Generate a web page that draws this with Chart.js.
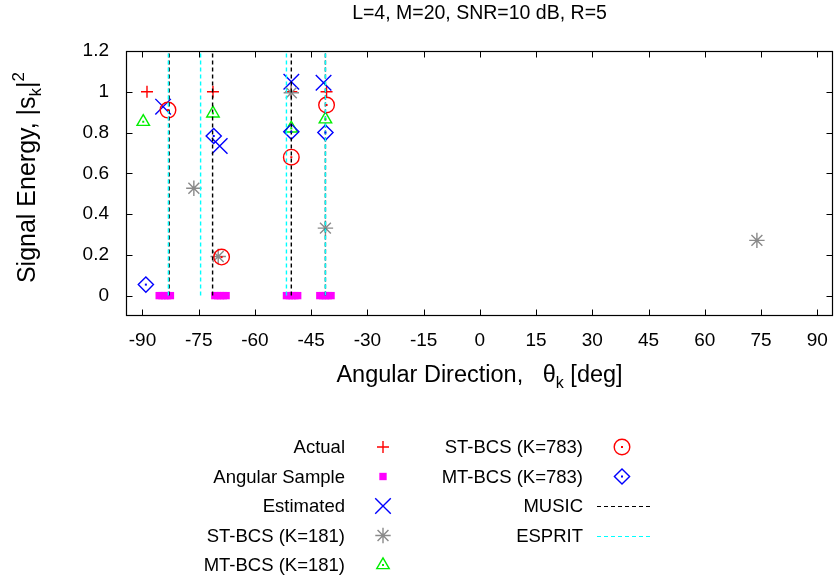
<!DOCTYPE html>
<html>
<head>
<meta charset="utf-8">
<script src="https://cdn.jsdelivr.net/npm/chart.js@4.4.0/dist/chart.umd.min.js"></script>
<style>
  html, body { margin: 0; padding: 0; background: #fff; }
</style>
</head>
<body>
<canvas id="chart" width="835" height="583"></canvas>
<script>
const FONT = '"Liberation Sans", Arial, sans-serif';

// axis ticks
const xTicks = [-90, -75, -60, -45, -30, -15, 0, 15, 30, 45, 60, 75, 90];
const yTicks = [0, 0.2, 0.4, 0.6, 0.8, 1, 1.2];

// data (degrees, energy)
const actualDoA = [-88.8, -71.2, -50.3, -40.9];
const actualEnergy = [1, 1, 1, 1];
const sampleDoA = [-85.55, -84.8, -84.05, -83.3, -82.55,
                   -70.7, -69.95, -69.2, -68.45, -67.7,
                   -51.6, -50.85, -50.1, -49.35, -48.6,
                   -42.7, -41.95, -41.2, -40.45, -39.7];
const estDoA = [-84.5, -69.4, -50.3, -41.7];
const estEnergy = [0.927, 0.734, 1.049, 1.044];
const st181DoA = [-76.3, -69.8, -50.3, -41.2, 73.9];
const st181Energy = [0.527, 0.192, 0.995, 0.331, 0.271];
const mt181DoA = [-89.8, -71.2, -50.3, -41.2];
const mt181Energy = [0.853, 0.894, 0.82, 0.865];
const st783DoA = [-83.2, -68.9, -50.3, -40.9];
const st783Energy = [0.91, 0.189, 0.679, 0.935];
const mt783DoA = [-89.1, -71.0, -50.3, -41.2];
const mt783Energy = [0.054, 0.783, 0.804, 0.80];
const musicDoA = [-82.9, -71.3, -50.3, -41.2];
const espritDoA = [-83.1, -74.5, -51.6, -41.2];

function pts(xs, ys) { return xs.map((v, i) => ({x: v, y: ys[i]})); }
function vlines(xs) { return xs.flatMap(v => [{x: v, y: 0}, {x: v, y: 1.2}, {x: v, y: null}]); }

const RED = '#ff0000', BLUE = '#0000ff', GRAY = '#8a8a8a', GREEN = '#00ee00', MAG = '#ff00ff', CYAN = '#00ffff';
const NONE = 'rgba(0,0,0,0)';

const series = [
  {label: 'Actual', data: pts(actualDoA, actualEnergy), style: 'cross', r: 6, color: RED},
  {label: 'Angular Sample', data: sampleDoA.map(v => ({x: v, y: 0})), style: 'rect', r: 5.2, color: MAG, fill: true},
  {label: 'Estimated', data: pts(estDoA, estEnergy), style: 'crossRot', r: 11, color: BLUE},
  {label: 'ST-BCS (K=181)', data: pts(st181DoA, st181Energy), style: 'star', r: 7.7, color: GRAY},
  {label: 'MT-BCS (K=181)', data: pts(mt181DoA, mt181Energy), style: 'triangle', r: 7.2, color: GREEN, dot: true},
  {label: 'ST-BCS (K=783)', data: pts(st783DoA, st783Energy), style: 'circle', r: 7.8, color: RED, dot: true},
  {label: 'MT-BCS (K=783)', data: pts(mt783DoA, mt783Energy), style: 'rectRot', r: 7.6, color: BLUE, dot: true},
  {label: 'MUSIC', data: vlines(musicDoA), line: '#000000'},
  {label: 'ESPRIT', data: vlines(espritDoA), line: CYAN}
];

const datasets = series.map((s, i) => s.line ? {
  label: s.label, data: s.data, showLine: true, pointRadius: 0,
  borderColor: s.line, borderWidth: 1.4, borderDash: [4, 3], spanGaps: false,
  order: series.length - i
} : {
  label: s.label, data: s.data, pointStyle: s.style, pointRadius: s.r,
  borderColor: s.color, backgroundColor: s.fill ? s.color : NONE,
  borderWidth: s.fill ? 0 : 1.4,
  order: series.length - i
});

function drawText(ctx, parts, x, y, align) {
  // parts: [text, size, dy]
  let w = 0;
  parts.forEach(p => { ctx.font = p[1] + 'px ' + FONT; w += ctx.measureText(p[0]).width; });
  let cx = align == 'center' ? x - w / 2 : x;
  ctx.textAlign = 'left';
  parts.forEach(p => {
    ctx.font = p[1] + 'px ' + FONT;
    ctx.fillText(p[0], cx, y + p[2]);
    cx += ctx.measureText(p[0]).width;
  });
}

function symbol(ctx, s, x, y) {
  ctx.save();
  ctx.strokeStyle = s.color;
  ctx.fillStyle = s.fill ? s.color : NONE;
  ctx.lineWidth = s.fill ? 0 : 1.4;
  Chart.helpers.drawPoint(ctx, {pointStyle: s.style, radius: s.r, rotation: 0, borderWidth: s.fill ? 0 : 1.4}, x, y);
  if (s.dot) { ctx.fillStyle = s.color; ctx.fillRect(x - 1, y - 1, 2, 2); }
  ctx.restore();
}

// centre dots of the hollow gnuplot symbols
const dots = {
  id: 'dots',
  afterDatasetsDraw(chart) {
    const ctx = chart.ctx;
    ctx.save();
    series.forEach((s, i) => {
      if (!s.dot) return;
      ctx.fillStyle = s.color;
      chart.getDatasetMeta(i).data.forEach(p => ctx.fillRect(p.x - 1, p.y - 1, 2, 2));
    });
    ctx.restore();
  }
};

const decor = {
  id: 'decor',
  afterDraw(chart) {
    const {ctx, chartArea: a, scales} = chart;
    const L = Math.round(a.left) + 0.5, R = Math.round(a.right) - 0.5;
    const T = Math.round(a.top) + 0.5, B = Math.round(a.bottom) - 0.5;
    ctx.save();
    ctx.strokeStyle = '#000';
    ctx.lineWidth = 1;
    ctx.beginPath();
    xTicks.forEach(v => {
      const px = Math.round(scales.x.getPixelForValue(v)) + 0.5;
      ctx.moveTo(px, B); ctx.lineTo(px, B - 6);
      ctx.moveTo(px, T); ctx.lineTo(px, T + 6);
    });
    yTicks.forEach(v => {
      const py = Math.round(scales.y.getPixelForValue(v)) + 0.5;
      ctx.moveTo(L, py); ctx.lineTo(L + 6, py);
      ctx.moveTo(R, py); ctx.lineTo(R - 6, py);
    });
    ctx.stroke();
    ctx.lineWidth = 1.2;
    ctx.strokeRect(L, T, R - L, B - T);

    ctx.fillStyle = '#000';
    ctx.textBaseline = 'alphabetic';
    drawText(ctx, [['L=4, M=20, SNR=10 dB, R=5', 19.5, 0]], (a.left + a.right) / 2, 19, 'center');
    drawText(ctx, [['Angular Direction,   \u03b8', 23.5, 0], ['k', 16, 6], [' [deg]', 23.5, 0]],
      (a.left + a.right) / 2, 382, 'center');
    ctx.save();
    ctx.translate(35, (a.top + a.bottom) / 2 - 6);
    ctx.rotate(-Math.PI / 2);
    drawText(ctx, [['Signal Energy, |s', 25, 0], ['k', 17, 6], ['|', 25, 0], ['2', 17, -11]], 0, 0, 'center');
    ctx.restore();

    // legend, two columns like the original key
    const rows = [447, 476.5, 506, 535.5, 565];
    const cols = [{tx: 345, mx: 383}, {tx: 583, mx: 622}];
    ctx.font = '18.5px ' + FONT;
    ctx.textAlign = 'right';
    ctx.textBaseline = 'middle';
    series.forEach((s, i) => {
      const col = cols[i < 5 ? 0 : 1];
      const y = rows[i < 5 ? i : i - 5];
      ctx.fillStyle = '#000';
      ctx.fillText(s.label, col.tx, y + 1);
      if (s.line) {
        ctx.strokeStyle = s.line;
        ctx.lineWidth = 1.2;
        ctx.setLineDash([4, 3]);
        ctx.beginPath();
        ctx.moveTo(597, Math.round(y) + 0.5); ctx.lineTo(650, Math.round(y) + 0.5);
        ctx.stroke();
        ctx.setLineDash([]);
      } else {
        symbol(ctx, s, col.mx, y);
      }
    });
    ctx.restore();
  }
};

new Chart(document.getElementById('chart'), {
  type: 'scatter',
  data: {datasets: datasets},
  plugins: [dots, decor],
  options: {
    responsive: false,
    animation: false,
    events: [],
    layout: {autoPadding: false, padding: {left: 66, right: 2, top: 51, bottom: 187}},
    scales: {
      x: {
        type: 'linear', min: -94.4, max: 94.2,
        afterFit: s => { s.height = 80; s.paddingLeft = 0; s.paddingRight = 0; },
        afterBuildTicks: s => { s.ticks = xTicks.map(v => ({value: v})); },
        grid: {display: false, drawTicks: false},
        border: {display: false},
        ticks: {color: '#000', padding: 13, maxRotation: 0, autoSkip: false, font: {family: FONT, size: 19}}
      },
      y: {
        type: 'linear', min: -0.1, max: 1.2,
        afterFit: s => { s.width = 60; s.paddingTop = 0; s.paddingBottom = 0; },
        afterBuildTicks: s => { s.ticks = yTicks.map(v => ({value: v})); },
        grid: {display: false, drawTicks: false},
        border: {display: false},
        ticks: {color: '#000', padding: 17, autoSkip: false, font: {family: FONT, size: 19},
          callback: v => String(v)}
      }
    },
    plugins: {legend: {display: false}, tooltip: {enabled: false}, title: {display: false}}
  }
});
</script>
</body>
</html>
